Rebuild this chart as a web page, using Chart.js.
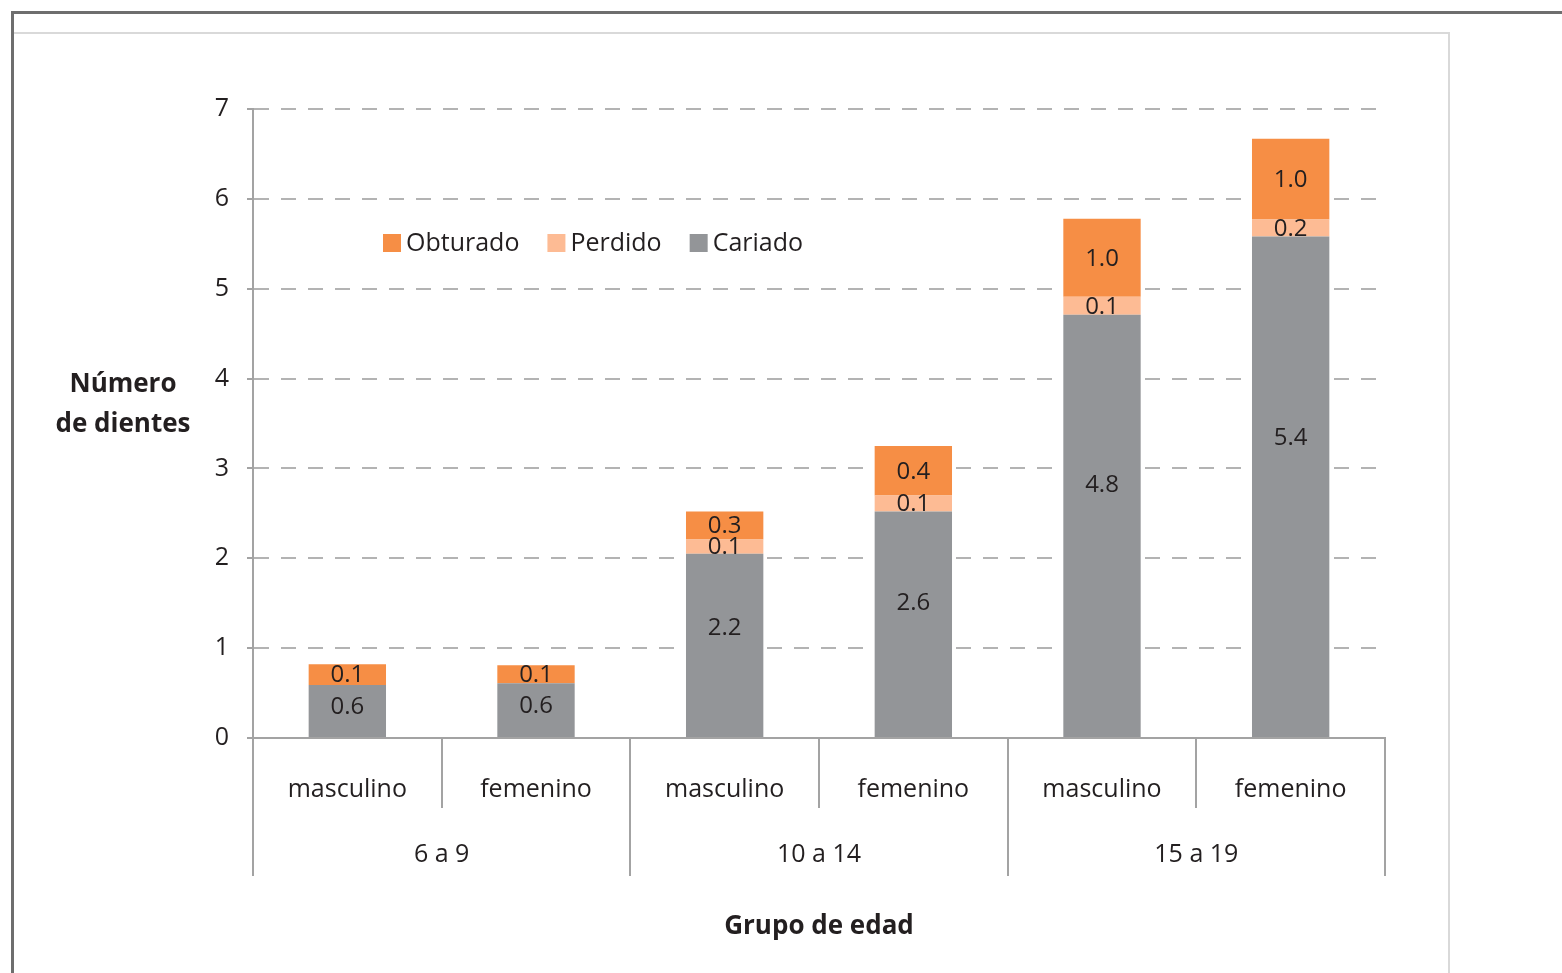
<!DOCTYPE html>
<html>
<head>
<meta charset="utf-8">
<script src="https://cdn.jsdelivr.net/npm/chart.js@4.4.1/dist/chart.umd.min.js"></script>
<style>
html, body { margin: 0; padding: 0; background: #ffffff; }
#wrap { position: relative; width: 1562px; height: 973px; overflow: hidden; background: #ffffff; }
.frame { position: absolute; }
#c { position: absolute; left: 0; top: 0; }
</style>
</head>
<body>
<div id="wrap">
  <div class="frame" style="left:11px;top:11px;width:1551px;height:3px;background:#6e6e6e"></div>
  <div class="frame" style="left:11px;top:11px;width:3px;height:962px;background:#6e6e6e"></div>
  <div class="frame" style="left:14px;top:32px;width:1435px;height:2px;background:#d9d9d9"></div>
  <div class="frame" style="left:1448px;top:32px;width:2px;height:941px;background:#d9d9d9"></div>
  <canvas id="c" width="1562" height="973"></canvas>
</div>
<script>
// ---- data ----
const sexLabels = ['masculino', 'femenino', 'masculino', 'femenino', 'masculino', 'femenino'];
const groupLabels = ['6 a 9', '10 a 14', '15 a 19'];
const seriesNames = ['Cariado', 'Perdido', 'Obturado'];

// bar segment heights
const cariado  = [0.59, 0.61, 2.05, 2.52, 4.71, 5.58];
const perdido  = [0.00, 0.00, 0.16, 0.18, 0.20, 0.19];
const obturado = [0.23, 0.20, 0.31, 0.55, 0.87, 0.90];

// value labels as printed on the bars
const cariadoLabels  = ['0.6', '0.6', '2.2', '2.6', '4.8', '5.4'];
const perdidoLabels  = ['', '', '0.1', '0.1', '0.1', '0.2'];
const obturadoLabels = ['0.1', '0.1', '0.3', '0.4', '1.0', '1.0'];

const yTitleLines = ['Número', 'de dientes'];
const xTitle = 'Grupo de edad';

// ---- styles ----
const FONT = "'Open Sans', 'Noto Sans', sans-serif";
const TEXT = '#231f20';
const AXIS = '#a3a3a3';
const colors = ['#939598', '#fdbb94', '#f68e45'];

Chart.defaults.font.family = FONT;
Chart.defaults.color = TEXT;

const valueLabelPlugin = {
  id: 'valueLabels',
  afterDatasetsDraw(chart) {
    const ctx = chart.ctx;
    const labelSets = [cariadoLabels, perdidoLabels, obturadoLabels];
    ctx.save();
    ctx.font = '24px ' + FONT;
    ctx.fillStyle = TEXT;
    ctx.textAlign = 'center';
    ctx.textBaseline = 'middle';
    chart.data.datasets.forEach((ds, d) => {
      const meta = chart.getDatasetMeta(d);
      meta.data.forEach((el, i) => {
        const txt = labelSets[d][i];
        if (!txt) return;
        const p = el.getProps(['x', 'y', 'base'], true);
        const frac = d === 0 ? 0.6 : 0.5;
        const ty = p.base + (p.y - p.base) * frac;
        ctx.fillText(txt, p.x, ty + 1);
      });
    });
    ctx.restore();
  }
};

const decorPlugin = {
  id: 'decor',
  afterDraw(chart) {
    const ctx = chart.ctx;
    const ca = chart.chartArea;
    const xs = chart.scales.x;
    const x2 = chart.scales.x2;
    ctx.save();
    // category separators
    const n = sexLabels.length;
    const half = (xs.getPixelForValue(1) - xs.getPixelForValue(0)) / 2;
    ctx.strokeStyle = AXIS;
    ctx.lineWidth = 2;
    for (let i = 0; i <= n; i++) {
      const px = i < n ? xs.getPixelForValue(i) - half : xs.getPixelForValue(n - 1) + half;
      const yEnd = (i % 2 === 0) ? x2.top + 68 : xs.bottom;
      ctx.beginPath();
      ctx.moveTo(Math.round(px), xs.top);
      ctx.lineTo(Math.round(px), yEnd);
      ctx.stroke();
    }
    // legend (drawn inside plot area)
    ctx.font = '25px ' + FONT;
    ctx.textBaseline = 'middle';
    ctx.textAlign = 'left';
    let lx = ca.left + 130;
    const ly = ca.top + 134;
    for (let d = chart.data.datasets.length - 1; d >= 0; d--) {
      const ds = chart.data.datasets[d];
      ctx.fillStyle = ds.backgroundColor;
      ctx.fillRect(lx, ly - 9, 18, 18);
      ctx.fillStyle = TEXT;
      ctx.fillText(ds.label, lx + 23, ly + 1);
      lx += 23 + ctx.measureText(ds.label).width + 28;
    }
    // horizontal y-axis title
    ctx.font = 'bold 26px ' + FONT;
    ctx.textAlign = 'center';
    ctx.fillStyle = TEXT;
    const tx = ca.left - 130;
    ctx.fillText(yTitleLines[0], tx, ca.top + 276);
    ctx.fillText(yTitleLines[1], tx, ca.top + 316);
    ctx.restore();
  }
};

new Chart(document.getElementById('c'), {
  type: 'bar',
  data: {
    labels: sexLabels,
    datasets: [
      { label: seriesNames[0], data: cariado,  backgroundColor: colors[0] },
      { label: seriesNames[1], data: perdido,  backgroundColor: colors[1] },
      { label: seriesNames[2], data: obturado, backgroundColor: colors[2] }
    ]
  },
  options: {
    responsive: false,
    animation: false,
    devicePixelRatio: 1,
    layout: { padding: { left: 0, right: 177, top: 109, bottom: 0 } },
    datasets: { bar: { barPercentage: 0.41, categoryPercentage: 1.0, borderWidth: 0 } },
    plugins: {
      legend: { display: false },
      title: { display: false },
      tooltip: { enabled: false }
    },
    scales: {
      x: {
        stacked: true,
        position: 'bottom',
        grid: { display: false, drawTicks: false },
        border: { display: true, color: AXIS, width: 2 },
        ticks: { font: { size: 25 }, color: TEXT, padding: 37, maxRotation: 0, autoSkip: false },
        afterFit(s) { s.height = 70; }
      },
      x2: {
        type: 'category',
        labels: groupLabels,
        position: 'bottom',
        offset: true,
        grid: { display: false, drawTicks: false },
        border: { display: false },
        ticks: { font: { size: 25 }, color: TEXT, padding: 32, maxRotation: 0, autoSkip: false },
        title: { display: true, text: xTitle, color: TEXT, font: { size: 26, weight: 'bold' }, padding: { top: 0, bottom: 31 } },
        afterFit(s) { s.height = 165; }
      },
      y: {
        stacked: true,
        min: 0,
        max: 7,
        ticks: { stepSize: 1, font: { size: 25 }, color: TEXT, padding: 18 },
        grid: {
          color: '#b3b3b3', lineWidth: 2, drawTicks: true, tickLength: 6,
          tickColor: AXIS, tickWidth: 2, tickBorderDash: []
        },
        border: { display: true, color: AXIS, width: 2, dash: [15, 12] },
        afterFit(s) { s.width = 253; }
      }
    }
  },
  plugins: [valueLabelPlugin, decorPlugin]
});
</script>
</body>
</html>
